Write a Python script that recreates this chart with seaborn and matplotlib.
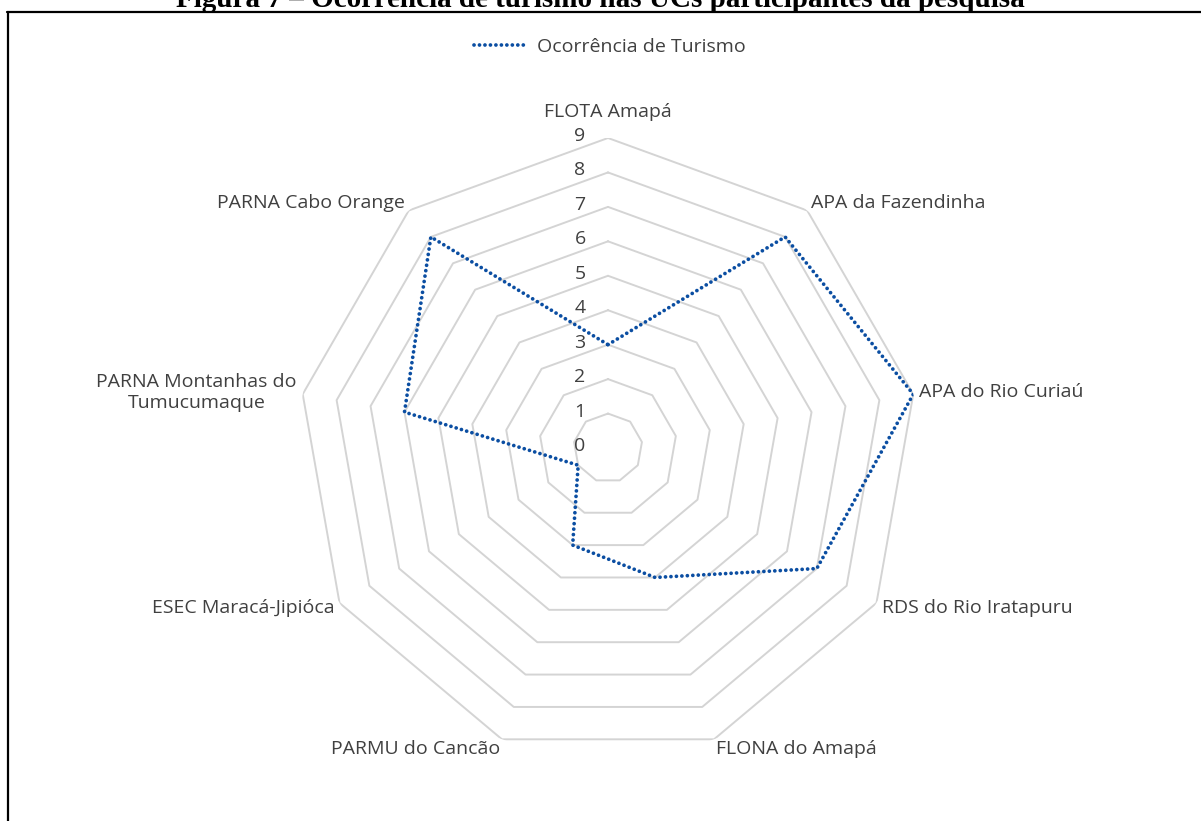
import numpy as np
import matplotlib
matplotlib.use("Agg")
import matplotlib.pyplot as plt
import seaborn as sns
from matplotlib.lines import Line2D

sns.set_style("white")
plt.rcParams['font.family'] = ['Open Sans', 'DejaVu Sans']

# data
categories = ['FLOTA Amapá', 'APA da Fazendinha', 'APA do Rio Curiaú',
              'RDS do Rio Iratapuru', 'FLONA do Amapá', 'PARMU do Cancão',
              'ESEC Maracá-Jipióca', 'PARNA Montanhas do\nTumucumaque',
              'PARNA Cabo Orange']
values = [3, 8, 9, 7, 4, 3, 1, 6, 8]
levels = list(range(0, 10))
series_name = 'Ocorrência de Turismo'
title = 'Figura 7 – Ocorrência de turismo nas UCs participantes da pesquisa'

text_color = '#404040'
grid_color = '#d4d4d4'
line_color = '#0b4ea2'

n = len(categories)
angles = np.linspace(0, 2 * np.pi, n, endpoint=False)
angles_closed = np.append(angles, angles[0])

fig = plt.figure(figsize=(12.01, 8.21), dpi=100)
ax = fig.add_axes([298 / 1201, 63 / 821, 620 / 1201, 620 / 821], projection='polar')
ax.set_theta_zero_location('N')
ax.set_theta_direction(-1)
ax.set_ylim(0, 9)
ax.grid(False)
ax.spines['polar'].set_visible(False)
ax.set_xticks([])
ax.set_yticks([])
ax.patch.set_alpha(0)

# polygon gridlines
for lv in levels[1:]:
    ax.plot(angles_closed, [lv] * (n + 1), color=grid_color, lw=1.4, zorder=1)

# level labels to the left of the top axis
for lv in levels:
    ax.annotate(str(lv), xy=(0, lv), xytext=(-28, 2), textcoords='offset pixels',
                ha='center', va='center', fontsize=14, color=text_color)

# category labels
for ang, cat in zip(angles, categories):
    s, c = np.sin(ang), np.cos(ang)
    if abs(s) < 0.1:
        ha, va, off = 'center', 'bottom', (0, 17)
    else:
        ha = 'left' if s > 0 else 'right'
        va = 'center'
        off = (6 * s, 10 * c)
    ax.annotate(cat, xy=(ang, 9), xytext=off, textcoords='offset pixels',
                ha=ha, va=va, fontsize=14, color=text_color,
                multialignment='center', linespacing=1.25)

vals_closed = values + values[:1]
ax.plot(angles_closed, vals_closed, color=line_color, lw=2.7,
        linestyle=(0, (0.01, 1.45)), dash_capstyle='round', zorder=3,
        label=series_name)

fig.legend(loc='center', bbox_to_anchor=(0.508, 1 - 47 / 821), frameon=False,
           fontsize=14, labelcolor=text_color, handlelength=2.7, handletextpad=0.55)

# clipped figure caption above the frame
fig.text(0.5, 1 - 7 / 821, title, ha='center', va='baseline', fontsize=21,
         fontweight='bold', family='Liberation Serif', color='black')

# frame (top and left edges visible)
fig.add_artist(Line2D([7 / 1201, 1], [1 - 12 / 821] * 2, color='black', lw=1.6))
fig.add_artist(Line2D([8 / 1201] * 2, [0, 1 - 12 / 821], color='black', lw=1.6))

fig.savefig('out.png', dpi=100)
